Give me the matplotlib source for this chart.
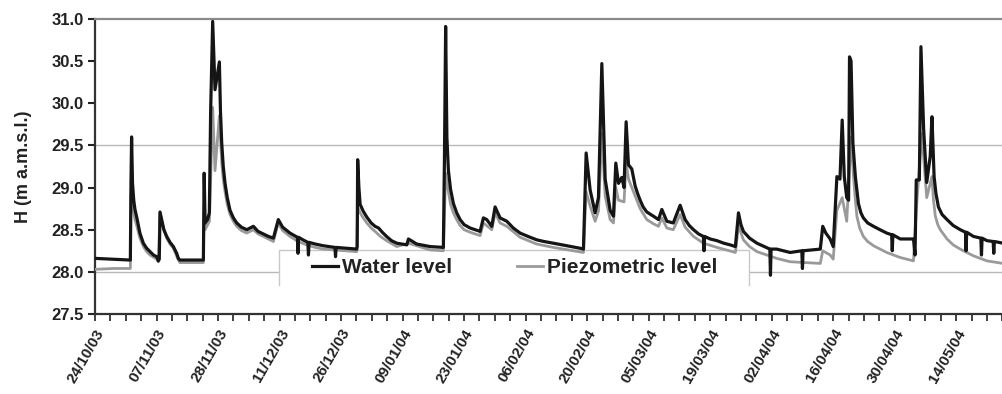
import numpy as np
import matplotlib as mpl
import matplotlib.pyplot as plt
from matplotlib.patches import Rectangle

# x is measured in tick-label intervals (label i sits at x = i)
tick_labels = ['24/10/03', '07/11/03', '28/11/03', '11/12/03', '26/12/03',
               '09/01/04', '23/01/04', '06/02/04', '20/02/04', '05/03/04',
               '19/03/04', '02/04/04', '16/04/04', '30/04/04', '14/05/04']

water_x = [0.0, 0.3, 0.575, 0.585, 0.595, 0.61, 0.63, 0.65, 0.678, 0.73, 0.786, 0.84,
           0.894, 0.95, 1.003, 1.03, 1.045, 1.057, 1.09, 1.12, 1.166, 1.22, 1.274, 1.328,
           1.355, 1.38, 1.762, 1.775, 1.79, 1.83, 1.859, 1.88, 1.913, 1.951, 2.022, 2.04,
           2.06, 2.085, 2.114, 2.15, 2.195, 2.25, 2.304, 2.38, 2.467, 2.575, 2.65, 2.737,
           2.82, 2.90, 2.98, 3.05, 3.17, 3.29, 3.30, 3.31, 3.38, 3.46, 3.47, 3.48, 3.58,
           3.71, 3.90, 3.91, 3.92, 4.255, 4.262, 4.27, 4.29, 4.31, 4.36, 4.418, 4.49,
           4.553, 4.61, 4.67, 4.74, 4.82, 4.906, 5.07, 5.095, 5.23, 5.447, 5.663, 5.68,
           5.70, 5.72, 5.745, 5.78, 5.826, 5.88, 5.935, 6.0, 6.098, 6.18, 6.26, 6.314,
           6.368, 6.45, 6.504, 6.585, 6.694, 6.80, 6.91, 7.04, 7.18, 7.30, 7.45, 7.886,
           7.94, 7.984, 8.049, 8.13, 8.184, 8.239, 8.293, 8.374, 8.428, 8.466, 8.51,
           8.564, 8.60, 8.634, 8.672, 8.726, 8.78, 8.82, 8.862, 8.91, 8.97, 9.078, 9.16,
           9.214, 9.296, 9.40, 9.512, 9.593, 9.66, 9.729, 9.81, 9.89, 9.90, 9.91, 10.0,
           10.11, 10.22, 10.325, 10.41, 10.46, 10.50, 10.54, 10.64, 10.76, 10.97, 10.98,
           10.99, 11.08, 11.30, 11.49, 11.50, 11.51, 11.79, 11.83, 11.88, 11.95, 12.0,
           12.06, 12.11, 12.146, 12.18, 12.22, 12.25, 12.265, 12.29, 12.32, 12.36, 12.41,
           12.45, 12.49, 12.56, 12.655, 12.76, 12.87, 12.95, 12.96, 12.97, 13.09, 13.2,
           13.305, 13.33, 13.35, 13.40, 13.426, 13.47, 13.52, 13.577, 13.605, 13.64, 13.67,
           13.71, 13.77, 13.85, 13.95, 14.065, 14.15, 14.16, 14.17, 14.28, 14.40, 14.41,
           14.42, 14.50, 14.60, 14.61, 14.62, 14.76]
water_y = [28.16, 28.15, 28.14, 29.05, 29.60, 29.05, 28.85, 28.74, 28.65, 28.46, 28.34, 28.28,
           28.24, 28.20, 28.18, 28.13, 28.15, 28.71, 28.60, 28.50, 28.42, 28.35, 28.30, 28.22,
           28.16, 28.14, 28.14, 29.17, 28.58, 28.62, 28.70, 29.90, 30.97, 30.16, 30.49, 29.90,
           29.53, 29.25, 29.05, 28.88, 28.73, 28.64, 28.58, 28.53, 28.50, 28.54, 28.48, 28.45,
           28.42, 28.40, 28.62, 28.53, 28.46, 28.41, 28.22, 28.41, 28.38, 28.35, 28.20, 28.35,
           28.33, 28.31, 28.29, 28.18, 28.29, 28.27, 28.30, 29.33, 29.00, 28.80, 28.72, 28.65,
           28.58, 28.54, 28.52, 28.47, 28.42, 28.37, 28.34, 28.32, 28.39, 28.33, 28.30, 28.29,
           29.30, 30.91, 29.60, 29.20, 28.98, 28.81, 28.70, 28.62, 28.56, 28.52, 28.50, 28.48,
           28.64, 28.62, 28.54, 28.77, 28.64, 28.60, 28.52, 28.46, 28.42, 28.38, 28.36, 28.34,
           28.28, 28.27, 29.41, 28.97, 28.70, 28.88, 30.47, 29.10, 28.73, 28.66, 29.29, 29.05,
           29.12, 29.00, 29.78, 29.27, 29.22, 29.02, 28.93, 28.85, 28.77, 28.71, 28.66, 28.62,
           28.74, 28.60, 28.58, 28.79, 28.62, 28.55, 28.50, 28.45, 28.42, 28.25, 28.42, 28.39,
           28.37, 28.34, 28.32, 28.30, 28.70, 28.56, 28.48, 28.40, 28.34, 28.27, 27.96, 28.27,
           28.27, 28.23, 28.25, 28.04, 28.25, 28.27, 28.54, 28.46, 28.39, 28.30, 29.13, 29.10,
           29.80, 29.13, 28.88, 28.85, 30.55, 30.50, 29.53, 29.13, 28.81, 28.70, 28.64, 28.58,
           28.54, 28.50, 28.46, 28.44, 28.25, 28.44, 28.39, 28.39, 28.39, 28.20, 29.09, 29.09,
           30.67, 29.69, 29.06, 29.37, 29.84, 29.13, 28.93, 28.77, 28.68, 28.62, 28.55, 28.50,
           28.47, 28.25, 28.47, 28.42, 28.40, 28.20, 28.40, 28.37, 28.36, 28.22, 28.36, 28.34]

piezo_x = [0.0, 0.3, 0.575, 0.585, 0.60, 0.62, 0.65, 0.678, 0.73, 0.786, 0.84, 0.894, 1.003,
           1.03, 1.057, 1.11, 1.166, 1.22, 1.274, 1.355, 1.38, 1.762, 1.775, 1.79, 1.86,
           1.913, 1.951, 2.022, 2.06, 2.085, 2.114, 2.15, 2.195, 2.25, 2.304, 2.38, 2.467,
           2.575, 2.65, 2.737, 2.90, 2.98, 3.05, 3.17, 3.3, 3.44, 3.58, 3.71, 4.255, 4.27,
           4.31, 4.36, 4.418, 4.49, 4.553, 4.64, 4.74, 4.906, 5.095, 5.447, 5.663, 5.70,
           5.745, 5.78, 5.826, 5.88, 5.935, 6.0, 6.098, 6.26, 6.314, 6.45, 6.504, 6.585,
           6.694, 6.91, 7.18, 7.45, 7.94, 7.984, 8.049, 8.13, 8.184, 8.239, 8.293, 8.374,
           8.428, 8.466, 8.51, 8.60, 8.634, 8.672, 8.78, 8.862, 8.97, 9.078, 9.16, 9.214,
           9.296, 9.40, 9.512, 9.593, 9.729, 9.89, 10.11, 10.41, 10.46, 10.54, 10.64, 10.76,
           11.08, 11.30, 11.79, 11.83, 11.95, 12.0, 12.06, 12.146, 12.22, 12.29, 12.33,
           12.36, 12.385, 12.43, 12.49, 12.56, 12.655, 12.87, 13.09, 13.305, 13.35, 13.44,
           13.52, 13.605, 13.63, 13.66, 13.70, 13.74, 13.85, 13.95, 14.065, 14.28, 14.50,
           14.76]
piezo_y = [28.03, 28.04, 28.04, 28.90, 29.05, 28.75, 28.62, 28.55, 28.40, 28.30, 28.24, 28.20,
           28.15, 28.12, 28.70, 28.52, 28.40, 28.33, 28.28, 28.14, 28.11, 28.11, 28.95, 28.50,
           28.60, 29.95, 29.20, 29.85, 29.30, 29.10, 28.95, 28.80, 28.68, 28.60, 28.54, 28.49,
           28.46, 28.50, 28.45, 28.42, 28.36, 28.58, 28.49, 28.42, 28.36, 28.32, 28.29, 28.27,
           28.24, 28.77, 28.70, 28.64, 28.58, 28.52, 28.48, 28.42, 28.37, 28.30, 28.34, 28.26,
           28.25, 29.17, 28.95, 28.80, 28.70, 28.62, 28.55, 28.50, 28.47, 28.43, 28.58, 28.50,
           28.70, 28.58, 28.54, 28.41, 28.33, 28.29, 28.23, 28.95, 28.78, 28.60, 28.72, 29.64,
           28.90, 28.62, 28.58, 29.00, 28.85, 28.83, 29.30, 29.10, 28.90, 28.75, 28.62, 28.57,
           28.54, 28.64, 28.52, 28.50, 28.68, 28.53, 28.42, 28.34, 28.29, 28.23, 28.55, 28.38,
           28.30, 28.24, 28.16, 28.12, 28.10, 28.25, 28.20, 28.15, 28.73, 28.88, 28.60, 29.60,
           29.13, 28.85, 28.66, 28.52, 28.42, 28.36, 28.31, 28.23, 28.17, 28.13, 28.73, 29.64,
           28.88, 29.13, 28.85, 28.66, 28.56, 28.50, 28.39, 28.32, 28.27, 28.19, 28.13, 28.10]

plt.rcParams['font.family'] = ['Liberation Sans', 'DejaVu Sans']
plt.rcParams['font.weight'] = 'bold'

fig = plt.figure(figsize=(10.03, 3.94), dpi=100)
ax = fig.add_axes([0.0947, 0.203, 0.9053, 0.749])

for yg in [28.0, 29.5]:
    ax.axhline(yg, color='#b8b8b8', lw=1.0, zorder=0)

ax.plot(piezo_x, piezo_y, color='#9a9a9a', lw=2.0, zorder=3, label='Piezometric level')
ax.plot(water_x, water_y, color='#151515', lw=2.3, zorder=4, label='Water level')

ax.set_xlim(0, 14.76)
ax.set_ylim(27.5, 31.0)
ax.set_yticks(np.arange(27.5, 31.01, 0.5))
ax.set_yticklabels(['%.1f' % v for v in np.arange(27.5, 31.01, 0.5)])
ax.set_xticks(np.arange(len(tick_labels)))
ax.set_xticklabels(tick_labels, rotation=60, ha='right', rotation_mode='anchor')
ax.set_xticks(np.arange(0, 14.76, 0.25), minor=True)

ax.tick_params(axis='y', labelsize=12, length=5, width=1.5, colors='#222222', pad=3)
ax.tick_params(axis='x', which='both', labelsize=11, length=5, width=1.2,
               colors='#222222', pad=4)
ax.set_ylabel('H (m a.m.s.l.)', fontsize=13, fontweight='bold', color='#222222', labelpad=14)

ax.spines['left'].set_linewidth(1.6)
ax.spines['left'].set_color('#333333')
ax.spines['bottom'].set_linewidth(1.6)
ax.spines['bottom'].set_color('#333333')
ax.spines['top'].set_linewidth(1.6)
ax.spines['top'].set_color('#8a8a8a')
ax.spines['right'].set_visible(False)

# legend box: white fill, open at the bottom
bx0, bx1, by0, by1 = 0.203, 0.720, 0.098, 0.217
ax.add_patch(Rectangle((bx0, by0), bx1 - bx0, by1 - by0, transform=ax.transAxes,
                       facecolor='white', edgecolor='none', zorder=1))
ax.plot([bx0, bx0, bx1, bx1], [by0, by1, by1, by0], transform=ax.transAxes,
        color='#c8c8c8', lw=1.0, zorder=1.5)

handles, labels = ax.get_legend_handles_labels()
leg = ax.legend(handles[::-1], labels[::-1], ncol=2, loc='center left',
                bbox_to_anchor=(0.239, 0.156), frameon=False, fontsize=15,
                handlelength=1.25, handletextpad=0.2, columnspacing=3.1,
                borderpad=0, borderaxespad=0)
leg.set_zorder(2)
for t in leg.get_texts():
    t.set_fontweight('bold')
    t.set_color('#222222')

fig.savefig('out.png', dpi=100)
